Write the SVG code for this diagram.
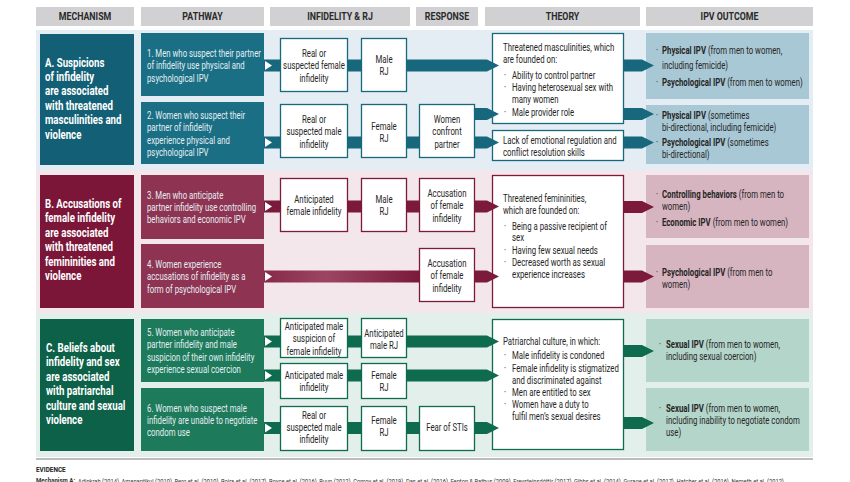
<svg xmlns="http://www.w3.org/2000/svg" width="850" height="482" viewBox="0 0 850 482">
<defs>
<style>
text{font-family:Roboto,"Liberation Sans",sans-serif}
.hdr{fill:#d1d1d3}
.hd{font-size:11px;font-weight:bold;fill:#2a2a2a;text-anchor:middle}
.mech{font-size:12.4px;font-weight:bold;fill:#fff}
.pw{font-size:10px;fill:#e4eef2}
.bx{font-size:10px;fill:#262626;text-anchor:middle}
.th{font-size:10px;fill:#262626}
.ipv{font-size:10px;fill:#262626}
.b{font-weight:bold}
.wa{fill:#fff;stroke:#17677d;stroke-width:1.3}
.wb{fill:#fff;stroke:#7b1a3b;stroke-width:1.3}
.wc{fill:#fff;stroke:#0f6b4e;stroke-width:1.3}
.ca{fill:#17677d}
.cb{fill:#7b1a3b}
.cc{fill:#0f6b4e}
.tri{fill:#fff}
</style>
<linearGradient id="gB" x1="0" y1="0" x2="1" y2="0">
<stop offset="0" stop-color="#862a49"/>
<stop offset="0.4" stop-color="#9c4563"/>
<stop offset="1" stop-color="#7b1a3b"/>
</linearGradient>
</defs>
<rect width="850" height="482" fill="#fff"/>

<g id="headers">
<rect class="hdr" x="36" y="7" width="98" height="19"/>
<rect class="hdr" x="141" y="7" width="123" height="19"/>
<rect class="hdr" x="270" y="7" width="140" height="19"/>
<rect class="hdr" x="416" y="7" width="62" height="19"/>
<rect class="hdr" x="485" y="7" width="155" height="19"/>
<rect class="hdr" x="646" y="7" width="167" height="19"/>
<text class="hd" transform="matrix(0.8 0 0 1 85 0)" x="0" y="20.5">MECHANISM</text>
<text class="hd" transform="matrix(0.8 0 0 1 202.5 0)" x="0" y="20.5">PATHWAY</text>
<text class="hd" transform="matrix(0.8 0 0 1 340 0)" x="0" y="20.5">INFIDELITY &amp; RJ</text>
<text class="hd" transform="matrix(0.8 0 0 1 447 0)" x="0" y="20.5">RESPONSE</text>
<text class="hd" transform="matrix(0.8 0 0 1 562.5 0)" x="0" y="20.5">THEORY</text>
<text class="hd" transform="matrix(0.8 0 0 1 729.5 0)" x="0" y="20.5">IPV OUTCOME</text>
</g>

<g id="section-backgrounds">
<rect x="36" y="30" width="777" height="140" fill="#e3edf3"/>
<rect x="36" y="170" width="777" height="143" fill="#f3e7eb"/>
<rect x="36" y="313" width="777" height="144" fill="#e3efeb"/>
</g>

<!-- Section A -->
<g id="mechA">
<rect x="40" y="34" width="94" height="131" fill="#135f75"/>
<text class="mech" transform="matrix(0.78 0 0 1 45 0)"><tspan x="0" y="67">A.  Suspicions</tspan><tspan x="0" y="81">of infidelity</tspan><tspan x="0" y="95.5">are associated</tspan><tspan x="0" y="110">with threatened</tspan><tspan x="0" y="124.5">masculinities and</tspan><tspan x="0" y="139">violence</tspan></text>
</g>
<g id="pathA1">
<rect x="141" y="33" width="123" height="63" fill="#1b6f85"/>
<text class="pw" transform="matrix(0.78 0 0 1 147 0)"><tspan x="0" y="57">1. Men who suspect their partner</tspan><tspan x="0" y="69.5">of infidelity use physical and</tspan><tspan x="0" y="82">psychological IPV</tspan></text>
</g>
<g id="pathA2">
<rect x="141" y="102" width="123" height="62" fill="#1b6f85"/>
<text class="pw" transform="matrix(0.78 0 0 1 147 0)"><tspan x="0" y="119">2. Women who suspect their</tspan><tspan x="0" y="131.5">partner of infidelity</tspan><tspan x="0" y="144">experience physical and</tspan><tspan x="0" y="156.5">psychological IPV</tspan></text>
</g>
<g id="infA1">
<rect class="wa" x="280.5" y="38.5" width="67" height="53"/>
<text class="bx" transform="matrix(0.78 0 0 1 314 0)"><tspan x="0" y="57">Real or</tspan><tspan x="0" y="69.5">suspected female</tspan><tspan x="0" y="82">infidelity</tspan></text>
</g>
<g id="rjA1">
<rect class="wa" x="361.5" y="38.5" width="45" height="53"/>
<text class="bx" transform="matrix(0.78 0 0 1 384 0)"><tspan x="0" y="63">Male</tspan><tspan x="0" y="75.5">RJ</tspan></text>
</g>
<g id="infA2">
<rect class="wa" x="280.5" y="104.5" width="67" height="53"/>
<text class="bx" transform="matrix(0.78 0 0 1 314 0)"><tspan x="0" y="123">Real or</tspan><tspan x="0" y="135.5">suspected male</tspan><tspan x="0" y="148">infidelity</tspan></text>
</g>
<g id="rjA2">
<rect class="wa" x="361.5" y="104.5" width="45" height="53"/>
<text class="bx" transform="matrix(0.78 0 0 1 384 0)"><tspan x="0" y="130">Female</tspan><tspan x="0" y="142">RJ</tspan></text>
</g>
<g id="respA2">
<rect class="wa" x="419.5" y="104.5" width="55" height="53"/>
<text class="bx" transform="matrix(0.78 0 0 1 447 0)"><tspan x="0" y="123">Women</tspan><tspan x="0" y="135.5">confront</tspan><tspan x="0" y="148">partner</tspan></text>
</g>
<g id="theoryA1">
<rect class="wa" x="492.5" y="33.5" width="131" height="90"/>
<text class="th" transform="matrix(0.78 0 0 1 503 0)"><tspan x="0" y="51.5">Threatened masculinities, which</tspan><tspan x="0" y="63">are founded on:</tspan></text>
<text class="th" transform="matrix(0.78 0 0 1 504 0)"><tspan x="0" y="79">·</tspan><tspan x="0" y="91">·</tspan><tspan x="0" y="116">·</tspan></text>
<text class="th" transform="matrix(0.78 0 0 1 512 0)"><tspan x="0" y="79">Ability to control partner</tspan><tspan x="0" y="91">Having heterosexual sex with</tspan><tspan x="0" y="103">many women</tspan><tspan x="0" y="116">Male provider role</tspan></text>
</g>
<g id="theoryA2">
<rect class="wa" x="492.5" y="130.5" width="131" height="30"/>
<text class="th" transform="matrix(0.78 0 0 1 503 0)"><tspan x="0" y="144.5">Lack of emotional regulation and</tspan><tspan x="0" y="156">conflict resolution skills</tspan></text>
</g>
<g id="ipvA1">
<rect x="646" y="33" width="163" height="66" fill="#a9c8d5"/>
<text class="ipv" transform="matrix(0.78 0 0 1 656 0)"><tspan x="0" y="54">·</tspan><tspan x="0" y="86">·</tspan></text>
<text class="ipv" transform="matrix(0.78 0 0 1 662 0)"><tspan x="0" y="54"><tspan class="b">Physical IPV</tspan> (from men to women,</tspan><tspan x="0" y="69">including femicide)</tspan><tspan x="0" y="86"><tspan class="b">Psychological IPV</tspan> (from men to women)</tspan></text>
</g>
<g id="ipvA2">
<rect x="646" y="105" width="163" height="59" fill="#a9c8d5"/>
<text class="ipv" transform="matrix(0.78 0 0 1 656 0)"><tspan x="0" y="119">·</tspan><tspan x="0" y="146">·</tspan></text>
<text class="ipv" transform="matrix(0.78 0 0 1 662 0)"><tspan x="0" y="119"><tspan class="b">Physical IPV</tspan> (sometimes</tspan><tspan x="0" y="131.5">bi-directional, including femicide)</tspan><tspan x="0" y="146"><tspan class="b">Psychological IPV</tspan> (sometimes</tspan><tspan x="0" y="158.5">bi-directional)</tspan></text>
</g>

<!-- Section B -->
<g id="mechB">
<rect x="40" y="175" width="94" height="133" fill="#7b1638"/>
<text class="mech" transform="matrix(0.78 0 0 1 45 0)"><tspan x="0" y="208">B.  Accusations of</tspan><tspan x="0" y="222.5">female infidelity</tspan><tspan x="0" y="237">are associated</tspan><tspan x="0" y="251.5">with threatened</tspan><tspan x="0" y="266">femininities and</tspan><tspan x="0" y="280.5">violence</tspan></text>
</g>
<g id="pathB3">
<rect x="141" y="175" width="123" height="64" fill="#8e3352"/>
<text class="pw" transform="matrix(0.78 0 0 1 147 0)"><tspan x="0" y="199.5">3. Men who anticipate</tspan><tspan x="0" y="211.5">partner infidelity use controlling</tspan><tspan x="0" y="223.5">behaviors and economic IPV</tspan></text>
</g>
<g id="pathB4">
<rect x="141" y="244" width="123" height="64" fill="#8e3352"/>
<text class="pw" transform="matrix(0.78 0 0 1 147 0)"><tspan x="0" y="268">4. Women experience</tspan><tspan x="0" y="280.5">accusations of infidelity as a</tspan><tspan x="0" y="293">form of psychological IPV</tspan></text>
</g>
<g id="infB3">
<rect class="wb" x="280.5" y="178.5" width="67" height="53"/>
<text class="bx" transform="matrix(0.78 0 0 1 314 0)"><tspan x="0" y="203">Anticipated</tspan><tspan x="0" y="215.5">female infidelity</tspan></text>
</g>
<g id="rjB3">
<rect class="wb" x="361.5" y="178.5" width="45" height="53"/>
<text class="bx" transform="matrix(0.78 0 0 1 384 0)"><tspan x="0" y="203">Male</tspan><tspan x="0" y="215.5">RJ</tspan></text>
</g>
<g id="respB3">
<rect class="wb" x="419.5" y="178.5" width="55" height="53"/>
<text class="bx" transform="matrix(0.78 0 0 1 447 0)"><tspan x="0" y="197">Accusation</tspan><tspan x="0" y="209.5">of female</tspan><tspan x="0" y="222">infidelity</tspan></text>
</g>
<g id="respB4">
<rect class="wb" x="419.5" y="248.5" width="55" height="53"/>
<text class="bx" transform="matrix(0.78 0 0 1 447 0)"><tspan x="0" y="267">Accusation</tspan><tspan x="0" y="279.5">of female</tspan><tspan x="0" y="292">infidelity</tspan></text>
</g>
<g id="theoryB">
<rect class="wb" x="492.5" y="175.5" width="131" height="132"/>
<text class="th" transform="matrix(0.78 0 0 1 503 0)"><tspan x="0" y="202">Threatened femininities,</tspan><tspan x="0" y="214.5">which are founded on:</tspan></text>
<text class="th" transform="matrix(0.78 0 0 1 504 0)"><tspan x="0" y="230">·</tspan><tspan x="0" y="254">·</tspan><tspan x="0" y="266">·</tspan></text>
<text class="th" transform="matrix(0.78 0 0 1 512 0)"><tspan x="0" y="230">Being a passive recipient of</tspan><tspan x="0" y="241.5">sex</tspan><tspan x="0" y="254">Having few sexual needs</tspan><tspan x="0" y="266">Decreased worth as sexual</tspan><tspan x="0" y="278">experience increases</tspan></text>
</g>
<g id="ipvB1">
<rect x="646" y="175" width="163" height="63" fill="#d6b4c0"/>
<text class="ipv" transform="matrix(0.78 0 0 1 656 0)"><tspan x="0" y="198">·</tspan><tspan x="0" y="226">·</tspan></text>
<text class="ipv" transform="matrix(0.78 0 0 1 662 0)"><tspan x="0" y="198"><tspan class="b">Controlling behaviors</tspan> (from men to</tspan><tspan x="0" y="210">women)</tspan><tspan x="0" y="226"><tspan class="b">Economic IPV</tspan> (from men to women)</tspan></text>
</g>
<g id="ipvB2">
<rect x="646" y="245" width="163" height="63" fill="#d6b4c0"/>
<text class="ipv" transform="matrix(0.78 0 0 1 656 0)"><tspan x="0" y="276">·</tspan></text>
<text class="ipv" transform="matrix(0.78 0 0 1 662 0)"><tspan x="0" y="276"><tspan class="b">Psychological IPV</tspan> (from men to</tspan><tspan x="0" y="288">women)</tspan></text>
</g>

<!-- Section C -->
<g id="mechC">
<rect x="40" y="319" width="94" height="132" fill="#0d6148"/>
<text class="mech" transform="matrix(0.78 0 0 1 46 0)"><tspan x="0" y="352">C.  Beliefs about</tspan><tspan x="0" y="366.5">infidelity and sex</tspan><tspan x="0" y="381">are associated</tspan><tspan x="0" y="395.5">with patriarchal</tspan><tspan x="0" y="410">culture and sexual</tspan><tspan x="0" y="424.5">violence</tspan></text>
</g>
<g id="pathC5">
<rect x="141" y="319" width="123" height="63" fill="#1d7a5b"/>
<text class="pw" transform="matrix(0.78 0 0 1 147 0)"><tspan x="0" y="336.5">5. Women who anticipate</tspan><tspan x="0" y="348.5">partner infidelity and male</tspan><tspan x="0" y="361">suspicion of their own infidelity</tspan><tspan x="0" y="373">experience sexual coercion</tspan></text>
</g>
<g id="pathC6">
<rect x="141" y="388" width="123" height="63" fill="#1d7a5b"/>
<text class="pw" transform="matrix(0.78 0 0 1 147 0)"><tspan x="0" y="412">6. Women who suspect male</tspan><tspan x="0" y="424.5">infidelity are unable to negotiate</tspan><tspan x="0" y="436.5">condom use</tspan></text>
</g>
<g id="infC5a">
<rect class="wc" x="280.5" y="318.5" width="67" height="39"/>
<text class="bx" transform="matrix(0.78 0 0 1 314 0)"><tspan x="0" y="330.5">Anticipated male</tspan><tspan x="0" y="342.5">suspicion of</tspan><tspan x="0" y="355">female infidelity</tspan></text>
</g>
<g id="rjC5a">
<rect class="wc" x="361.5" y="318.5" width="45" height="39"/>
<text class="bx" transform="matrix(0.78 0 0 1 384 0)"><tspan x="0" y="337">Anticipated</tspan><tspan x="0" y="349">male RJ</tspan></text>
</g>
<g id="infC5b">
<rect class="wc" x="280.5" y="363.5" width="67" height="35"/>
<text class="bx" transform="matrix(0.78 0 0 1 314 0)"><tspan x="0" y="379.5">Anticipated male</tspan><tspan x="0" y="391.5">infidelity</tspan></text>
</g>
<g id="rjC5b">
<rect class="wc" x="361.5" y="363.5" width="45" height="35"/>
<text class="bx" transform="matrix(0.78 0 0 1 384 0)"><tspan x="0" y="379.5">Female</tspan><tspan x="0" y="391.5">RJ</tspan></text>
</g>
<g id="infC6">
<rect class="wc" x="280.5" y="406.5" width="67" height="44"/>
<text class="bx" transform="matrix(0.78 0 0 1 314 0)"><tspan x="0" y="419.5">Real or</tspan><tspan x="0" y="431.5">suspected male</tspan><tspan x="0" y="443.5">infidelity</tspan></text>
</g>
<g id="rjC6">
<rect class="wc" x="361.5" y="406.5" width="45" height="44"/>
<text class="bx" transform="matrix(0.78 0 0 1 384 0)"><tspan x="0" y="424.5">Female</tspan><tspan x="0" y="436.5">RJ</tspan></text>
</g>
<g id="respC6">
<rect class="wc" x="419.5" y="406.5" width="55" height="44"/>
<text class="bx" transform="matrix(0.78 0 0 1 447 0)"><tspan x="0" y="431.5">Fear of STIs</tspan></text>
</g>
<g id="theoryC">
<rect class="wc" x="492.5" y="319.5" width="131" height="130"/>
<text class="th" transform="matrix(0.78 0 0 1 503 0)"><tspan x="0" y="345.5">Patriarchal culture, in which:</tspan></text>
<text class="th" transform="matrix(0.78 0 0 1 504 0)"><tspan x="0" y="359.5">·</tspan><tspan x="0" y="372">·</tspan><tspan x="0" y="396">·</tspan><tspan x="0" y="408.5">·</tspan></text>
<text class="th" transform="matrix(0.78 0 0 1 512 0)"><tspan x="0" y="359.5">Male infidelity is condoned</tspan><tspan x="0" y="372">Female infidelity is stigmatized</tspan><tspan x="0" y="384">and discriminated against</tspan><tspan x="0" y="396">Men are entitled to sex</tspan><tspan x="0" y="408.5">Women have a duty to</tspan><tspan x="0" y="420.5">fulfil men’s sexual desires</tspan></text>
</g>
<g id="ipvC1">
<rect x="646" y="319" width="163" height="63" fill="#b4d5ca"/>
<text class="ipv" transform="matrix(0.78 0 0 1 659 0)"><tspan x="0" y="348">·</tspan></text>
<text class="ipv" transform="matrix(0.78 0 0 1 666 0)"><tspan x="0" y="348"><tspan class="b">Sexual IPV</tspan> (from men to women,</tspan><tspan x="0" y="360.5">including sexual coercion)</tspan></text>
</g>
<g id="ipvC2">
<rect x="646" y="388" width="163" height="63" fill="#b4d5ca"/>
<text class="ipv" transform="matrix(0.78 0 0 1 659 0)"><tspan x="0" y="412">·</tspan></text>
<text class="ipv" transform="matrix(0.78 0 0 1 666 0)"><tspan x="0" y="412"><tspan class="b">Sexual IPV</tspan> (from men to women,</tspan><tspan x="0" y="424.5">including inability to negotiate condom</tspan><tspan x="0" y="436.5">use)</tspan></text>
</g>

<g id="connectors">
<!-- A row 1 -->
<rect class="ca" x="264" y="59.5" width="16.5" height="12"/>
<polygon class="tri" points="265,61 272,65.5 265,70"/>
<rect class="ca" x="347.5" y="59.5" width="14" height="12"/>
<polygon class="ca" points="406.5,59.5 487,59.5 499,65.5 487,71.5 406.5,71.5"/>
<polygon class="ca" points="623.5,59.5 642,59.5 654,65.5 642,71.5 623.5,71.5"/>
<!-- A row 2 -->
<rect class="ca" x="264" y="136.5" width="16.5" height="12"/>
<polygon class="tri" points="265,138 272,142.5 265,147"/>
<rect class="ca" x="347.5" y="136.5" width="14" height="12"/>
<rect class="ca" x="406.5" y="136.5" width="13" height="12"/>
<polygon class="ca" points="474.5,108 487,108 499,114 487,120 474.5,120"/>
<polygon class="ca" points="474.5,136.5 487,136.5 499,142.5 487,148.5 474.5,148.5"/>
<polygon class="ca" points="623.5,108 642,108 654,114 642,120 623.5,120"/>
<polygon class="ca" points="623.5,136.5 642,136.5 654,142.5 642,148.5 623.5,148.5"/>
<!-- B row 3 -->
<rect class="cb" x="264" y="200.5" width="16.5" height="12"/>
<polygon class="tri" points="265,202 272,206.5 265,211"/>
<rect class="cb" x="347.5" y="200.5" width="14" height="12"/>
<rect class="cb" x="406.5" y="200.5" width="13" height="12"/>
<polygon class="cb" points="474.5,200.5 487,200.5 499,206.5 487,212.5 474.5,212.5"/>
<polygon class="cb" points="623.5,201 642,201 654,207 642,213 623.5,213"/>
<!-- B row 4 -->
<rect x="264" y="270.5" width="155.5" height="12" fill="url(#gB)"/>
<polygon class="tri" points="265,272 272,276.5 265,281"/>
<polygon class="cb" points="474.5,270.5 487,270.5 499,276.5 487,282.5 474.5,282.5"/>
<polygon class="cb" points="623.5,270.5 642,270.5 654,276.5 642,282.5 623.5,282.5"/>
<!-- C row 5a -->
<rect class="cc" x="264" y="335.5" width="16.5" height="12"/>
<polygon class="tri" points="265,337 272,341.5 265,346"/>
<rect class="cc" x="347.5" y="335.5" width="14" height="12"/>
<polygon class="cc" points="406.5,335.5 487,335.5 499,341.5 487,347.5 406.5,347.5"/>
<!-- C row 5b -->
<rect class="cc" x="264" y="369.5" width="16.5" height="12"/>
<polygon class="tri" points="265,371 272,375.5 265,380"/>
<rect class="cc" x="347.5" y="369.5" width="14" height="12"/>
<polygon class="cc" points="406.5,369.5 487,369.5 499,375.5 487,381.5 406.5,381.5"/>
<!-- C row 6 -->
<rect class="cc" x="264" y="422" width="16.5" height="12"/>
<polygon class="tri" points="265,423.5 272,428 265,432.5"/>
<rect class="cc" x="347.5" y="422" width="14" height="12"/>
<rect class="cc" x="406.5" y="422" width="13" height="12"/>
<polygon class="cc" points="474.5,422 487,422 499,428 487,434 474.5,434"/>
<!-- C theory to outcome -->
<polygon class="cc" points="623.5,345 642,345 654,351 642,357 623.5,357"/>
<polygon class="cc" points="623.5,417 642,417 654,423 642,429 623.5,429"/>
</g>

<g id="evidence">
<line x1="36" y1="459" x2="813" y2="459" stroke="#7a7a7a" stroke-width="1"/>
<text transform="matrix(0.8 0 0 1 36 0)" x="0" y="472" style="font-size:8px;font-weight:bold;fill:#222">EVIDENCE</text>
<text transform="matrix(0.8 0 0 1 36 0)" x="0" y="483.5" style="font-size:7.6px;font-weight:bold;fill:#333">Mechanism A:</text>
<text x="78" y="483.5" textLength="707" lengthAdjust="spacingAndGlyphs" style="font-size:7.6px;fill:#333">Adinkrah (2014), Amanantikul (2010), Berg et al. (2010), Boira et al. (2017), Boyce et al. (2016), Buun (2012), Conroy et al. (2019), Das et al. (2016), Fenton &amp; Rathus (2009), Freysteinsdóttir (2017), Gibbs et al. (2014), Gurage et al. (2017), Hatcher et al. (2016), Nemeth et al. (2012),</text>
</g>
</svg>
